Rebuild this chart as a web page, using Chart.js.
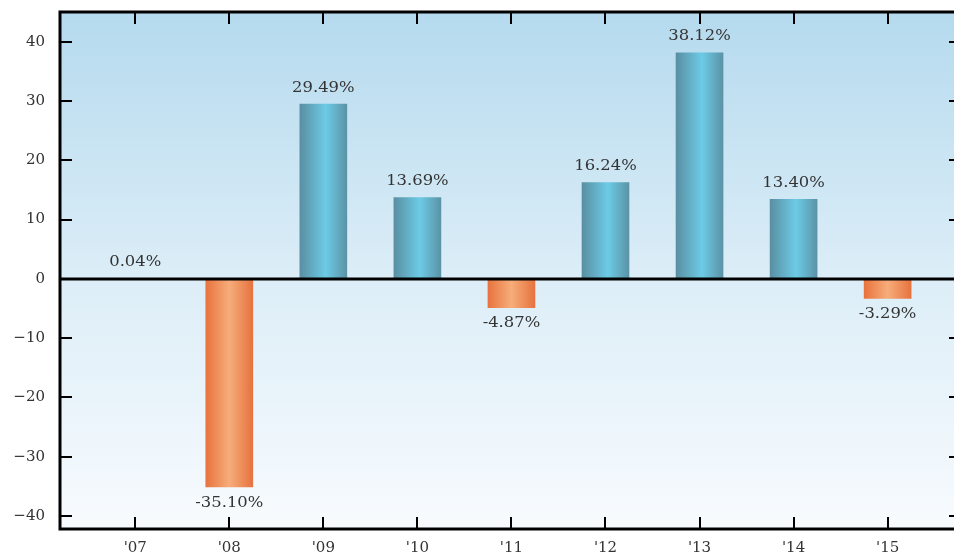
<!DOCTYPE html>
<html>
<head>
<meta charset="utf-8">
<script src="https://cdn.jsdelivr.net/npm/chart.js@4/dist/chart.umd.min.js"></script>
<style>
  html, body { margin: 0; padding: 0; background: #ffffff; overflow: hidden; }
  #wrap { width: 954px; height: 556px; position: relative; overflow: hidden; }
  #c { display: block; }
</style>
</head>
<body>
<div id="wrap"><canvas id="c" width="963" height="556"></canvas></div>
<script>
const categories = ["'07", "'08", "'09", "'10", "'11", "'12", "'13", "'14", "'15"];
const returns = [0.04, -35.10, 29.49, 13.69, -4.87, 16.24, 38.12, 13.40, -3.29];
const yTickValues = [-40, -30, -20, -10, 0, 10, 20, 30, 40];

const FONT = "'DejaVu Serif', 'Liberation Serif', serif";
const BAR_W = 47;

function barGradient(ctx) {
  const chart = ctx.chart;
  if (!chart.chartArea || !chart.scales.x) return '#6cc4e0';
  const xc = chart.scales.x.getPixelForValue(ctx.dataIndex);
  const g = chart.ctx.createLinearGradient(xc - BAR_W / 2, 0, xc + BAR_W / 2, 0);
  const v = returns[ctx.dataIndex];
  if (v >= 0) {
    g.addColorStop(0, '#5a8fa2');
    g.addColorStop(0.55, '#6ccbe6');
    g.addColorStop(1, '#5b93a6');
  } else {
    g.addColorStop(0, '#e8733e');
    g.addColorStop(0.5, '#f6ad7a');
    g.addColorStop(1, '#e6733f');
  }
  return g;
}

const decor = {
  id: 'decor',
  beforeDraw(chart) {
    const { ctx, chartArea: a } = chart;
    const g = ctx.createLinearGradient(0, a.top, 0, a.bottom);
    g.addColorStop(0, '#b5daee');
    g.addColorStop(0.5, '#dbedf7');
    g.addColorStop(1, '#f8fbfe');
    ctx.save();
    ctx.fillStyle = g;
    ctx.fillRect(a.left, a.top, a.right - a.left, a.bottom - a.top);
    ctx.restore();
  },
  afterDatasetsDraw(chart) {
    const { ctx, chartArea: a, scales: { x, y } } = chart;
    ctx.save();
    ctx.strokeStyle = '#000';
    ctx.lineWidth = 2;
    const TL = 12;
    yTickValues.forEach(v => {
      const py = Math.round(y.getPixelForValue(v));
      ctx.beginPath();
      ctx.moveTo(a.left, py); ctx.lineTo(a.left + TL, py);
      ctx.moveTo(a.right, py); ctx.lineTo(a.right - TL, py);
      ctx.stroke();
    });
    categories.forEach((c, i) => {
      const px = Math.round(x.getPixelForValue(i));
      ctx.beginPath();
      ctx.moveTo(px, a.top); ctx.lineTo(px, a.top + TL);
      ctx.moveTo(px, a.bottom); ctx.lineTo(px, a.bottom - TL);
      ctx.stroke();
    });
    ctx.lineWidth = 3;
    const y0 = Math.round(y.getPixelForValue(0));
    ctx.beginPath(); ctx.moveTo(a.left, y0); ctx.lineTo(a.right, y0); ctx.stroke();
    ctx.strokeRect(a.left, a.top, a.right - a.left, a.bottom - a.top);
    ctx.fillStyle = '#333333';
    ctx.font = '14px ' + FONT;
    ctx.textAlign = 'center';
    ctx.textBaseline = 'middle';
    returns.forEach((v, i) => {
      const px = x.getPixelForValue(i);
      const py = y.getPixelForValue(v);
      const ty = v >= 0 ? py - 16 : py + 16;
      ctx.save();
      ctx.translate(px, ty);
      ctx.scale(1.17, 1);
      ctx.fillText(v.toFixed(2) + '%', 0, 0);
      ctx.restore();
    });
    ctx.restore();
  }
};

new Chart(document.getElementById('c'), {
  type: 'bar',
  data: {
    datasets: [{
      data: returns.map((v, i) => ({ x: i, y: v })),
      backgroundColor: barGradient,
      borderWidth: 0,
      barThickness: BAR_W
    }]
  },
  options: {
    responsive: false,
    animation: false,
    devicePixelRatio: 1,
    layout: { padding: { top: 12, right: 2, bottom: 0, left: 0 } },
    plugins: { legend: { display: false }, tooltip: { enabled: false } },
    scales: {
      x: {
        type: 'linear',
        offset: false,
        min: -0.8,
        max: 8.78,
        grid: { display: false, drawTicks: false, offset: false },
        border: { display: false },
        afterBuildTicks: s => { s.ticks = categories.map((c, i) => ({ value: i })); },
        afterFit: s => { s.height = 27; s.paddingLeft = 0; s.paddingRight = 0; },
        ticks: {
          autoSkip: false,
          maxRotation: 0,
          padding: 10,
          color: '#333333',
          font: { family: FONT, size: 15 },
          callback: v => categories[v]
        }
      },
      y: {
        type: 'linear',
        min: -42.2,
        max: 45,
        grid: { display: false, drawTicks: false },
        border: { display: false },
        afterBuildTicks: s => { s.ticks = yTickValues.map(v => ({ value: v })); },
        afterFit: s => { s.width = 60; s.paddingTop = 0; s.paddingBottom = 0; },
        ticks: {
          padding: 15,
          color: '#333333',
          font: { family: FONT, size: 15 },
          callback: v => (v < 0 ? '\u2212' + Math.abs(v) : String(v))
        }
      }
    }
  },
  plugins: [decor]
});
</script>
</body>
</html>
